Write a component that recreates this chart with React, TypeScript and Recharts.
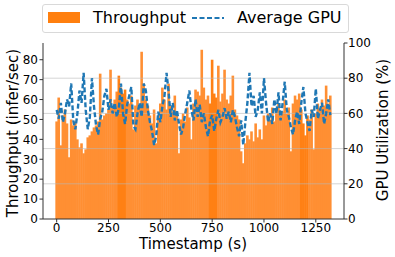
import React from 'react';
import { ComposedChart, Bar, Line, XAxis, YAxis, Cell, ReferenceLine } from 'recharts';

const timestamps: number[] = Array.from({ length: 133 }, (_, i) => i * 10);

const throughput: number[] = [
  49, 61, 37, 52, 55, 48, 31, 50, 47, 49,
  40, 36, 38, 33, 35, 41, 42, 44, 46, 47,
  49, 73, 50, 52, 53, 55, 75, 56, 60, 64,
  72, 66, 63, 65, 60, 58, 62, 45, 57, 60,
  56, 84, 68, 60, 57, 52, 48, 55, 38, 50,
  58, 66, 60, 55, 68, 57, 54, 62, 52, 33,
  50, 53, 49, 56, 51, 40, 58, 65, 64, 62,
  85, 66, 60, 62, 58, 80, 63, 61, 77, 59,
  63, 75, 60, 58, 62, 72, 55, 52, 50, 34,
  28, 38, 42, 40, 44, 39, 48, 41, 45, 40,
  52, 47, 53, 50, 56, 49, 55, 58, 52, 54,
  60, 53, 56, 34, 58, 62, 60, 63, 55, 48,
  42, 52, 50, 55, 35, 53, 58, 55, 60, 57,
  67, 58, 62,
];

const avgGpu: number[] = [
  62, 57, 66, 55, 60, 68, 64, 77, 56, 51,
  60, 73, 66, 83, 62, 51, 58, 80, 64, 53,
  48, 57, 61, 70, 74, 62, 68, 60, 66, 58,
  63, 77, 60, 54, 65, 70, 75, 53, 51, 60,
  66, 58, 77, 73, 62, 55, 50, 42, 47, 61,
  55, 64, 70, 83, 72, 58, 66, 56, 62, 54,
  48, 52, 60, 66, 73, 62, 56, 68, 58, 65,
  55, 60, 52, 47, 56, 59, 50, 57, 62, 55,
  58, 63, 57, 61, 55, 62, 58, 52, 47, 56,
  42, 55, 66, 83, 64, 70, 58, 62, 72, 60,
  80, 66, 55, 60, 54, 68, 60, 72, 56, 66,
  78, 62, 58, 52, 48, 56, 61, 54, 66, 75,
  60, 55, 50, 62, 58, 74, 57, 62, 66, 54,
  60, 68, 59,
];

const xTicks: number[] = [0, 250, 500, 750, 1000, 1250];
const leftTicks: number[] = [0, 10, 20, 30, 40, 50, 60, 70, 80];
const rightTicks: number[] = [0, 20, 40, 60, 80, 100];
const gridLevels: number[] = [20, 40, 60, 80];

const darkRanges: [number, number][] = [[300, 330], [740, 770], [1180, 1210]];

const data = timestamps.map((t, i) => ({ t, throughput: throughput[i], gpu: avgGpu[i] }));

const FONT = '"DejaVu Sans", sans-serif';
const ORANGE = '#ff7f0e';
const BAR_LIGHT = '#ff8f33';
const BAR_DARK = '#ff8014';
const BLUE = '#1f77b4';
const AXIS = '#333';

const WideBar = (props: any) => {
  const { x, y, width, height, fill } = props;
  if (x == null || y == null || !height) return null;
  return <rect x={x - 0.3} y={y} width={width + 0.6} height={height} fill={fill} />;
};

export default function App() {
  const tickStyle = { fill: '#000', fontSize: 12, fontFamily: FONT };
  return (
    <div style={{ position: 'absolute', left: 0, top: 0, width: 395, height: 257, background: '#fff', fontFamily: FONT }}>
      <ComposedChart
        width={395}
        height={257}
        data={data}
        margin={{ top: 43, right: 0, left: 0, bottom: 0 }}
        barCategoryGap={0}
        barGap={0}
      >
        <XAxis
          xAxisId="main"
          dataKey="t"
          type="number"
          domain={[-66, 1386]}
          ticks={xTicks}
          height={38}
          tickSize={3.5}
          tickMargin={1}
          tick={tickStyle}
          stroke={AXIS}
          interval={0}
        />
        <XAxis
          xAxisId="top"
          dataKey="t"
          type="number"
          orientation="top"
          domain={[-66, 1386]}
          height={0}
          tick={false}
          tickLine={false}
          stroke={AXIS}
        />
        <YAxis
          yAxisId="left"
          orientation="left"
          domain={[0, 88.4]}
          ticks={leftTicks}
          width={43}
          tickSize={3.5}
          tickMargin={1.5}
          tick={tickStyle}
          stroke={AXIS}
          interval={0}
        />
        <YAxis
          yAxisId="right"
          orientation="right"
          domain={[0, 100]}
          ticks={rightTicks}
          width={51}
          tickSize={3.5}
          tickMargin={0.5}
          tick={tickStyle}
          stroke={AXIS}
          interval={0}
        />
        <Bar
          xAxisId="main"
          yAxisId="left"
          dataKey="throughput"
          isAnimationActive={false}
          fill={BAR_LIGHT}
          shape={WideBar}
        >
          {data.map((d, i) => {
            const dark = darkRanges.some(([a, b]) => d.t >= a && d.t <= b);
            return <Cell key={i} fill={dark ? BAR_DARK : BAR_LIGHT} />;
          })}
        </Bar>
        {gridLevels.map((g) => (
          <ReferenceLine
            key={g}
            xAxisId="main"
            yAxisId="right"
            y={g}
            stroke="#b8b8b8"
            strokeOpacity={0.6}
            strokeWidth={1}
          />
        ))}
        <Line
          xAxisId="main"
          yAxisId="right"
          type="linear"
          dataKey="gpu"
          stroke={BLUE}
          strokeWidth={2.4}
          strokeDasharray="5 2.5"
          dot={false}
          isAnimationActive={false}
        />
      </ComposedChart>

      {/* Legend */}
      <div style={{ position: 'absolute', left: 42, top: 4, width: 305, height: 27, border: '1px solid #d9d9d9', borderRadius: 3, background: 'rgba(255,255,255,0.8)' }}>
        <div style={{ position: 'absolute', left: 5, top: 7, width: 32, height: 11, background: ORANGE }} />
        <div style={{ position: 'absolute', left: 50, top: 4, fontSize: 16, lineHeight: '18px', color: '#000', whiteSpace: 'nowrap' }}>Throughput</div>
        <svg style={{ position: 'absolute', left: 149, top: 11 }} width={32} height={4}>
          <line x1={0} y1={2} x2={32} y2={2} stroke={BLUE} strokeWidth={2} strokeDasharray="5 2.5" />
        </svg>
        <div style={{ position: 'absolute', left: 194, top: 4, fontSize: 16, lineHeight: '18px', color: '#000', whiteSpace: 'nowrap' }}>Average GPU</div>
      </div>

      {/* Axis labels */}
      <div style={{ position: 'absolute', left: 13, top: 133, transform: 'translate(-50%, -50%) rotate(-90deg)', fontSize: 15, lineHeight: 1, whiteSpace: 'nowrap', color: '#000' }}>Throughput (infer/sec)</div>
      <div style={{ position: 'absolute', left: 383, top: 130, transform: 'translate(-50%, -50%) rotate(-90deg)', fontSize: 15, lineHeight: 1, whiteSpace: 'nowrap', color: '#000' }}>GPU Utilization (%)</div>
      <div style={{ position: 'absolute', left: 193, top: 244, transform: 'translate(-50%, -50%)', fontSize: 15, lineHeight: 1, whiteSpace: 'nowrap', color: '#000' }}>Timestamp (s)</div>
    </div>
  );
}
